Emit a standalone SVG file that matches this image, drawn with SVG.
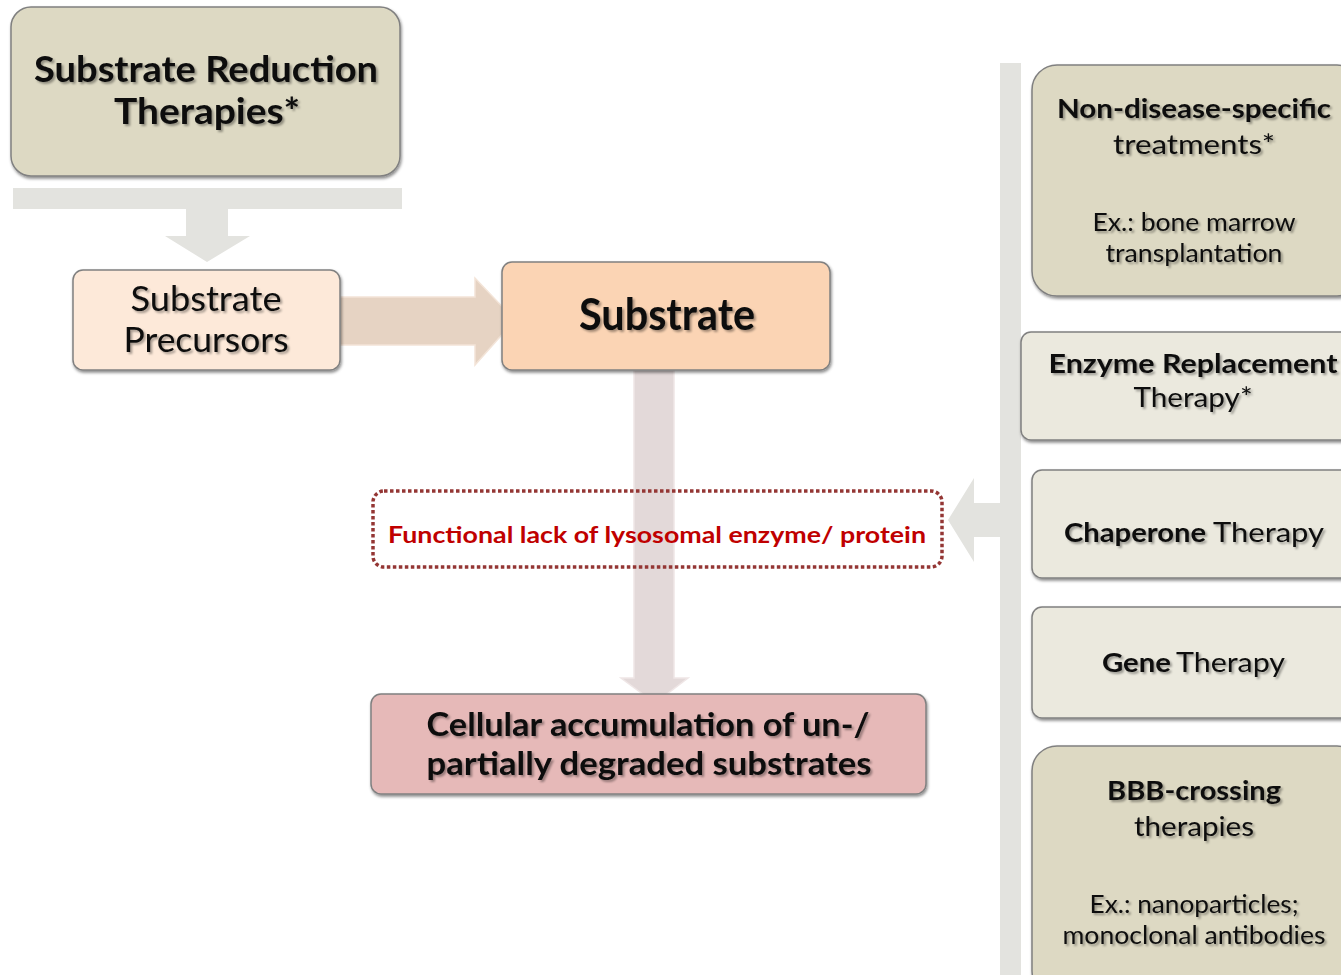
<svg xmlns="http://www.w3.org/2000/svg" width="1341" height="975" viewBox="0 0 1341 975">
<defs>
<filter id="ts" x="-5%" y="-20%" width="110%" height="150%"><feDropShadow dx="2" dy="2" stdDeviation="1.2" flood-color="#000" flood-opacity="0.35"/></filter>
<filter id="bs" x="-5%" y="-5%" width="110%" height="115%"><feDropShadow dx="1" dy="2" stdDeviation="1.5" flood-color="#000" flood-opacity="0.45"/></filter>
<style>
.t{font-family:Lato,"Open Sans","Liberation Sans",sans-serif;fill:#0d0d0d;text-anchor:middle;filter:url(#ts)}
.b{font-weight:bold}
.n{font-weight:normal}
.box{stroke:#808080;stroke-width:1.5;filter:url(#bs)}
.tan{fill:#ddd9c3}
.lt{fill:#ebe9de}
.conn{fill:#e3e3df}
</style>
</defs>
<rect width="1341" height="975" fill="#ffffff"/>
<g id="connectors">
<path class="conn" d="M13,188 H402 V209 H228 V236 H250 L207,262 L165,236 H186 V209 H13 Z"/>
<path d="M330,297 H475 V278 L515,320 L475,365 V345 H330 Z" fill="#e2cbb9" fill-opacity="0.85" stroke="#f3e4d8" stroke-width="1.5"/>
<path d="M634,370 H674 V678 H688 L655,703 L621,678 H634 Z" fill="#d9cccc" fill-opacity="0.75" stroke="#efe6e6" stroke-width="1.5"/>
<path class="conn" d="M1000,63 H1021 V975 H1000 V537 H974 V562 L948,520 L974,478 V503 H1000 Z"/>
</g>
<g id="srt">
<rect class="box tan" x="11" y="7" width="389" height="169" rx="20"/>
<text class="t b" x="206" y="82" font-size="36" textLength="344" lengthAdjust="spacingAndGlyphs">Substrate Reduction</text>
<text class="t b" x="207" y="124" font-size="36" textLength="186" lengthAdjust="spacingAndGlyphs">Therapies*</text>
</g>
<g id="precursors">
<rect class="box" x="73" y="270" width="267" height="100" rx="10" fill="#fde9d9"/>
<text class="t n" x="206" y="311" font-size="35" textLength="151" lengthAdjust="spacingAndGlyphs">Substrate</text>
<text class="t n" x="206" y="352" font-size="35" textLength="165" lengthAdjust="spacingAndGlyphs">Precursors</text>
</g>
<g id="substrate">
<rect class="box" x="502" y="262" width="328" height="108" rx="10" fill="#fbd4b4"/>
<text class="t b" x="667" y="330" font-size="44" textLength="176" lengthAdjust="spacingAndGlyphs">Substrate</text>
</g>
<g id="lack">
<rect x="373" y="491" width="569" height="76" rx="11" fill="none" stroke="#943634" stroke-width="3.5" stroke-dasharray="3.5 2.5"/>
<text x="657" y="543" font-size="23" font-weight="bold" fill="#c00000" text-anchor="middle" font-family="Lato,'Open Sans','Liberation Sans',sans-serif" textLength="538" lengthAdjust="spacingAndGlyphs">Functional lack of lysosomal enzyme/ protein</text>
</g>
<g id="accumulation">
<rect class="box" x="371" y="694" width="555" height="100" rx="10" fill="#e6b9b8"/>
<text class="t b" x="648" y="736" font-size="32" textLength="443" lengthAdjust="spacingAndGlyphs">Cellular accumulation of un-/</text>
<text class="t b" x="649" y="775" font-size="32" textLength="445" lengthAdjust="spacingAndGlyphs">partially degraded substrates</text>
</g>
<g id="nonspecific">
<rect class="box tan" x="1032" y="65" width="330" height="231" rx="25"/>
<text class="t b" x="1194" y="118" font-size="26" textLength="274" lengthAdjust="spacingAndGlyphs">Non-disease-specific</text>
<text class="t n" x="1194" y="154" font-size="26" textLength="162" lengthAdjust="spacingAndGlyphs">treatments*</text>
<text class="t n" x="1194" y="231" font-size="25" textLength="203" lengthAdjust="spacingAndGlyphs">Ex.: bone marrow</text>
<text class="t n" x="1194" y="262" font-size="25" textLength="177" lengthAdjust="spacingAndGlyphs">transplantation</text>
</g>
<g id="ert">
<rect class="box lt" x="1021" y="332" width="340" height="108" rx="10"/>
<text class="t b" x="1193" y="373" font-size="26" textLength="289" lengthAdjust="spacingAndGlyphs">Enzyme Replacement</text>
<text class="t n" x="1193" y="407" font-size="26" textLength="119" lengthAdjust="spacingAndGlyphs">Therapy*</text>
</g>
<g id="chaperone">
<rect class="box lt" x="1032" y="470" width="330" height="108" rx="10"/>
<text class="t" x="1064" y="542" font-size="26" style="text-anchor:start"><tspan class="b" textLength="142" lengthAdjust="spacingAndGlyphs">Chaperone</tspan><tspan class="n" x="1213" textLength="111" lengthAdjust="spacingAndGlyphs">Therapy</tspan></text>
</g>
<g id="gene">
<rect class="box lt" x="1032" y="607" width="330" height="111" rx="10"/>
<text class="t" x="1102" y="672" font-size="26" style="text-anchor:start"><tspan class="b" textLength="69" lengthAdjust="spacingAndGlyphs">Gene</tspan><tspan class="n" x="1176" textLength="109" lengthAdjust="spacingAndGlyphs">Therapy</tspan></text>
</g>
<g id="bbb">
<rect class="box tan" x="1032" y="746" width="330" height="250" rx="25"/>
<text class="t b" x="1194" y="800" font-size="26" textLength="174" lengthAdjust="spacingAndGlyphs">BBB-crossing</text>
<text class="t n" x="1194" y="836" font-size="26" textLength="120" lengthAdjust="spacingAndGlyphs">therapies</text>
<text class="t n" x="1194" y="913" font-size="25" textLength="209" lengthAdjust="spacingAndGlyphs">Ex.: nanoparticles;</text>
<text class="t n" x="1194" y="944" font-size="25" textLength="263" lengthAdjust="spacingAndGlyphs">monoclonal antibodies</text>
</g>
</svg>
